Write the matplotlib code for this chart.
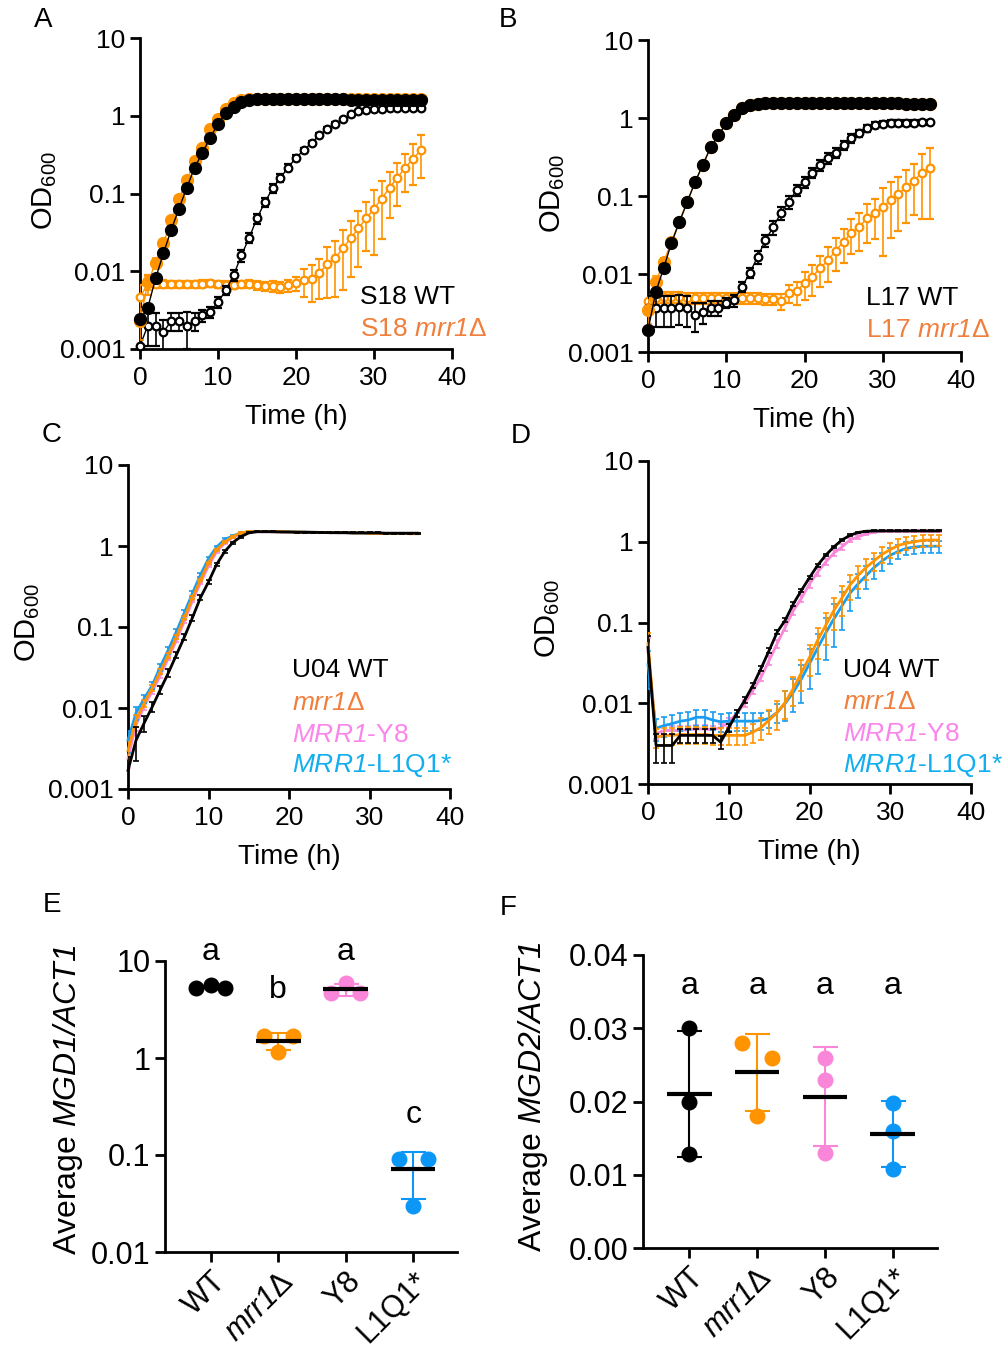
import numpy as np
import matplotlib
matplotlib.use("Agg")
import matplotlib.pyplot as plt
from matplotlib.ticker import FixedLocator, NullLocator

plt.rcParams['font.family'] = ['Liberation Sans', 'DejaVu Sans']
plt.rcParams['mathtext.fontset'] = 'custom'
plt.rcParams['mathtext.rm'] = 'Liberation Sans'
plt.rcParams['mathtext.it'] = 'Liberation Sans:italic'
# \mathsf used for gene names so that digits are italic too
plt.rcParams['mathtext.sf'] = 'Liberation Sans:italic'

# ---------------- data ----------------
hours = list(range(37))

# panel A (S18), filled = no drug, open = drug
A_wt_fill = [0.0024, 0.0034, 0.0081, 0.017, 0.034, 0.064, 0.119, 0.215, 0.334, 0.52, 0.79, 1.09, 1.30,
             1.50, 1.58, 1.62, 1.63, 1.63, 1.63, 1.63, 1.63, 1.62, 1.62, 1.62, 1.62, 1.62, 1.62,
             1.61, 1.61, 1.61, 1.61, 1.61, 1.61, 1.60, 1.60, 1.60, 1.60]
A_mut_fill = [0.0023, 0.0072, 0.0127, 0.0228, 0.045, 0.086, 0.147, 0.265, 0.39, 0.68, 0.90, 1.23, 1.45,
              1.58, 1.63, 1.65, 1.66, 1.66, 1.66, 1.66, 1.66, 1.66, 1.66, 1.66, 1.66, 1.66, 1.66,
              1.66, 1.66, 1.66, 1.66, 1.66, 1.66, 1.66, 1.66, 1.66, 1.66]
A_mut_fill_sd = [0.001, 0.0015, 0.002, 0.002, 0.003, 0.004, 0.005, 0.006, 0.006, 0.006, 0.006, 0.006, 0.006,
                 0.006, 0.006, 0.006, 0.006, 0.006, 0.006, 0.006, 0.006, 0.006, 0.006, 0.006, 0.006, 0.006,
                 0.006, 0.006, 0.006, 0.006, 0.006, 0.006, 0.006, 0.006, 0.006, 0.006, 0.006]
A_wt_open = [0.0011, 0.0020, 0.0020, 0.00165, 0.0023, 0.0023, 0.0020, 0.0023, 0.0027, 0.0030, 0.0040,
             0.0057, 0.0089, 0.016, 0.027, 0.048, 0.077, 0.116, 0.16, 0.215, 0.29, 0.36, 0.45, 0.56,
             0.68, 0.79, 0.90, 1.05, 1.15, 1.20, 1.22, 1.23, 1.24, 1.25, 1.25, 1.25, 1.26]
A_wt_open_sd = [0.0012, 0.0009, 0.0009, 0.0007, 0.0006, 0.0006, 0.0010, 0.0006, 0.0005, 0.0005, 0.0006,
                0.0008, 0.0015, 0.003, 0.004, 0.007, 0.010, 0.015, 0.020, 0.022, 0.025, 0.030, 0.030,
                0.035, 0.035, 0.035, 0.035, 0.030, 0.030, 0.030, 0.030, 0.030, 0.030, 0.030, 0.030,
                0.030, 0.030]
A_mut_open = [0.0046, 0.0070, 0.0069, 0.0069, 0.0068, 0.0068, 0.0068, 0.0068, 0.0069, 0.0070, 0.0068,
              0.0067, 0.0067, 0.0068, 0.0069, 0.0066, 0.0064, 0.0064, 0.0063, 0.0066, 0.0070, 0.0077,
              0.0080, 0.0094, 0.0125, 0.0147, 0.0197, 0.0265, 0.0355, 0.048, 0.064, 0.086, 0.119,
              0.16, 0.215, 0.28, 0.36]
A_mut_open_sd = [0.002, 0.002, 0.0008, 0.0008, 0.0008, 0.0008, 0.0008, 0.0008, 0.0008, 0.0008, 0.0008,
                 0.0008, 0.0008, 0.0008, 0.0008, 0.0008, 0.0008, 0.001, 0.001, 0.0012, 0.0015, 0.003,
                 0.004, 0.005, 0.008, 0.010, 0.014, 0.018, 0.024, 0.030, 0.048, 0.060, 0.070, 0.090,
                 0.110, 0.150, 0.200]

# panel B (L17)
B_wt_fill = [0.0019, 0.0059, 0.0119, 0.025, 0.046, 0.083, 0.15, 0.25, 0.42, 0.60, 0.86, 1.09, 1.34,
             1.47, 1.53, 1.56, 1.57, 1.57, 1.57, 1.57, 1.57, 1.56, 1.56, 1.56, 1.56, 1.56, 1.55,
             1.55, 1.55, 1.55, 1.54, 1.54, 1.54, 1.53, 1.53, 1.53, 1.53]
B_mut_fill = [0.0035, 0.0079, 0.0142, 0.026, 0.047, 0.085, 0.15, 0.25, 0.42, 0.60, 0.87, 1.10, 1.34,
              1.47, 1.53, 1.56, 1.57, 1.57, 1.57, 1.57, 1.57, 1.56, 1.56, 1.56, 1.56, 1.56, 1.55,
              1.55, 1.55, 1.55, 1.54, 1.54, 1.54, 1.53, 1.53, 1.53, 1.53]
B_mut_fill_sd = [0.0012, 0.0015, 0.002, 0.002, 0.003, 0.004, 0.005, 0.006, 0.006, 0.006, 0.006, 0.006,
                 0.006, 0.006, 0.006, 0.006, 0.006, 0.006, 0.006, 0.006, 0.006, 0.006, 0.006, 0.006,
                 0.006, 0.006, 0.006, 0.006, 0.006, 0.006, 0.006, 0.006, 0.006, 0.006, 0.006, 0.006, 0.006]
B_wt_open = [0.0037, 0.0037, 0.0037, 0.0037, 0.0038, 0.0037, 0.0030, 0.0033, 0.0037, 0.0037, 0.0043,
             0.0046, 0.0068, 0.0103, 0.0165, 0.027, 0.040, 0.061, 0.084, 0.12, 0.15, 0.20, 0.25, 0.31,
             0.36, 0.45, 0.55, 0.64, 0.74, 0.81, 0.85, 0.86, 0.87, 0.87, 0.87, 0.88, 0.88]
B_wt_open_sd = [0.0016, 0.0016, 0.0016, 0.0016, 0.0016, 0.0016, 0.0012, 0.0010, 0.0008, 0.0008, 0.0006,
                0.0008, 0.0010, 0.0015, 0.003, 0.005, 0.008, 0.012, 0.015, 0.020, 0.025, 0.030, 0.040,
                0.050, 0.055, 0.060, 0.070, 0.070, 0.070, 0.070, 0.070, 0.070, 0.070, 0.070, 0.070,
                0.070, 0.070]
B_mut_open = [0.0045, 0.0049, 0.0050, 0.0050, 0.0050, 0.0049, 0.0049, 0.0049, 0.0049, 0.0049, 0.0049,
              0.0049, 0.0049, 0.0049, 0.0049, 0.0048, 0.0048, 0.0045, 0.0057, 0.0060, 0.0077, 0.0092,
              0.0119, 0.015, 0.020, 0.026, 0.034, 0.040, 0.052, 0.060, 0.072, 0.089, 0.106, 0.13,
              0.157, 0.20, 0.23]
B_mut_open_sd = [0.0008, 0.0008, 0.0008, 0.0008, 0.0008, 0.0008, 0.0008, 0.0008, 0.0008, 0.0008, 0.0008,
                 0.0008, 0.0008, 0.0008, 0.0008, 0.0008, 0.0008, 0.001, 0.0015, 0.002, 0.003, 0.004,
                 0.005, 0.007, 0.009, 0.012, 0.016, 0.020, 0.027, 0.032, 0.055, 0.060, 0.070, 0.085,
                 0.100, 0.150, 0.180]

# panel C (U04, no drug)
C_wt = [0.0017, 0.0040, 0.0065, 0.0103, 0.0167, 0.027, 0.045, 0.075, 0.13, 0.23, 0.36, 0.59, 0.85,
        1.10, 1.30, 1.45, 1.50, 1.50, 1.50, 1.49, 1.49, 1.48, 1.48, 1.47, 1.47, 1.46, 1.46, 1.46,
        1.45, 1.45, 1.45, 1.45, 1.44, 1.44, 1.44, 1.44, 1.44]
C_mut = [0.0030, 0.0071, 0.0115, 0.0176, 0.028, 0.045, 0.075, 0.13, 0.23, 0.38, 0.62, 0.90, 1.12,
         1.30, 1.45, 1.50, 1.51, 1.51, 1.50, 1.50, 1.49, 1.49, 1.48, 1.48, 1.47, 1.47, 1.46, 1.46,
         1.45, 1.45, 1.44, 1.44, 1.43, 1.43, 1.43, 1.42, 1.42]
C_y8 = [0.0024, 0.0062, 0.0105, 0.016, 0.025, 0.041, 0.068, 0.118, 0.21, 0.35, 0.57, 0.85, 1.08,
        1.27, 1.42, 1.49, 1.50, 1.50, 1.50, 1.49, 1.49, 1.48, 1.48, 1.47, 1.47, 1.46, 1.46, 1.46,
        1.45, 1.45, 1.44, 1.44, 1.43, 1.43, 1.43, 1.42, 1.42]
C_l1q1 = [0.0040, 0.0087, 0.013, 0.019, 0.032, 0.052, 0.087, 0.15, 0.26, 0.44, 0.70, 0.97, 1.20,
          1.33, 1.45, 1.50, 1.51, 1.51, 1.50, 1.50, 1.49, 1.49, 1.48, 1.48, 1.47, 1.47, 1.46, 1.46,
          1.45, 1.45, 1.44, 1.44, 1.43, 1.43, 1.43, 1.42, 1.42]
C_wt_sd = [0.0008, 0.0018, 0.0015, 0.0015, 0.002, 0.003, 0.004, 0.006, 0.01, 0.015, 0.02, 0.03, 0.03,
           0.03, 0.03, 0.02, 0.02, 0.02, 0.02, 0.02, 0.02, 0.02, 0.02, 0.02, 0.02, 0.02, 0.02, 0.02,
           0.02, 0.02, 0.02, 0.02, 0.02, 0.02, 0.02, 0.02, 0.02]
C_mut_sd = [0.0008, 0.0012, 0.0012, 0.0015, 0.002, 0.003, 0.004, 0.006, 0.01, 0.015, 0.02, 0.03, 0.03,
            0.03, 0.03, 0.02, 0.02, 0.02, 0.02, 0.02, 0.02, 0.02, 0.02, 0.02, 0.02, 0.02, 0.02, 0.02,
            0.02, 0.02, 0.02, 0.02, 0.02, 0.02, 0.02, 0.02, 0.02]
C_y8_sd = [0.0006, 0.0010, 0.0010, 0.0012, 0.0015, 0.002, 0.003, 0.005, 0.008, 0.012, 0.02, 0.03, 0.03,
           0.03, 0.03, 0.02, 0.02, 0.02, 0.02, 0.02, 0.02, 0.02, 0.02, 0.02, 0.02, 0.02, 0.02, 0.02,
           0.02, 0.02, 0.02, 0.02, 0.02, 0.02, 0.02, 0.02, 0.02]
C_l1q1_sd = [0.0012, 0.0015, 0.0015, 0.002, 0.003, 0.005, 0.008, 0.012, 0.02, 0.03, 0.04, 0.04, 0.04,
             0.03, 0.03, 0.02, 0.02, 0.02, 0.02, 0.02, 0.02, 0.02, 0.02, 0.02, 0.02, 0.02, 0.02, 0.02,
             0.02, 0.02, 0.02, 0.02, 0.02, 0.02, 0.02, 0.02, 0.02]

# panel D (U04, drug)
D_wt = [0.049, 0.0030, 0.0030, 0.0030, 0.0040, 0.0040, 0.0040, 0.0040, 0.0040, 0.0033, 0.0050, 0.0075,
        0.011, 0.0167, 0.027, 0.045, 0.076, 0.107, 0.17, 0.25, 0.36, 0.51, 0.68, 0.86, 1.05, 1.20,
        1.30, 1.35, 1.36, 1.36, 1.36, 1.36, 1.36, 1.36, 1.36, 1.36, 1.36]
D_mut = [0.055, 0.0038, 0.0040, 0.0040, 0.0041, 0.0041, 0.0041, 0.0041, 0.0040, 0.0040, 0.0040, 0.0040,
         0.0040, 0.0044, 0.0050, 0.0062, 0.0077, 0.0103, 0.0153, 0.024, 0.037, 0.060, 0.092, 0.14, 0.20,
         0.29, 0.38, 0.48, 0.58, 0.70, 0.80, 0.90, 0.96, 1.00, 1.04, 1.05, 1.05]
D_y8 = [0.045, 0.0042, 0.0046, 0.0046, 0.0046, 0.0047, 0.0048, 0.0048, 0.0047, 0.0050, 0.0058, 0.0075,
        0.010, 0.0145, 0.021, 0.034, 0.055, 0.088, 0.14, 0.20, 0.30, 0.42, 0.56, 0.72, 0.86, 1.05,
        1.15, 1.25, 1.32, 1.35, 1.36, 1.36, 1.36, 1.36, 1.36, 1.36, 1.36]
D_l1q1 = [0.030, 0.0049, 0.0053, 0.0056, 0.0060, 0.0062, 0.0067, 0.0067, 0.0062, 0.0059, 0.0060, 0.0060,
          0.0060, 0.0060, 0.0061, 0.0065, 0.0077, 0.010, 0.0137, 0.020, 0.031, 0.048, 0.074, 0.11, 0.16,
          0.23, 0.30, 0.38, 0.48, 0.58, 0.68, 0.76, 0.83, 0.86, 0.88, 0.88, 0.88]
D_wt_sd = [0.02, 0.0012, 0.0012, 0.0012, 0.0008, 0.0008, 0.0008, 0.0008, 0.0008, 0.0006, 0.0006, 0.0008,
           0.001, 0.0012, 0.002, 0.003, 0.004, 0.006, 0.008, 0.01, 0.015, 0.02, 0.02, 0.03, 0.03, 0.03,
           0.02, 0.02, 0.02, 0.02, 0.02, 0.02, 0.02, 0.02, 0.02, 0.02, 0.02]
D_mut_sd = [0.02, 0.001, 0.001, 0.001, 0.001, 0.001, 0.001, 0.001, 0.001, 0.001, 0.001, 0.001,
            0.001, 0.0012, 0.0015, 0.002, 0.003, 0.004, 0.006, 0.010, 0.015, 0.025, 0.040, 0.060, 0.080,
            0.100, 0.120, 0.140, 0.150, 0.160, 0.170, 0.170, 0.170, 0.170, 0.170, 0.170, 0.170]
D_y8_sd = [0.02, 0.0006, 0.0006, 0.0006, 0.0006, 0.0006, 0.0006, 0.0006, 0.0006, 0.0006, 0.0007, 0.0008,
           0.001, 0.0015, 0.002, 0.004, 0.006, 0.01, 0.015, 0.02, 0.03, 0.04, 0.05, 0.06, 0.07, 0.07,
           0.06, 0.05, 0.04, 0.03, 0.03, 0.03, 0.03, 0.03, 0.03, 0.03, 0.03]
D_l1q1_sd = [0.015, 0.0015, 0.0015, 0.0015, 0.0015, 0.0015, 0.0015, 0.0015, 0.0015, 0.0015, 0.0015,
             0.0015, 0.0015, 0.0015, 0.0015, 0.0015, 0.002, 0.004, 0.006, 0.010, 0.016, 0.025, 0.040,
             0.060, 0.080, 0.090, 0.100, 0.120, 0.130, 0.140, 0.150, 0.150, 0.150, 0.150, 0.150,
             0.150, 0.150]

# panels E and F: qPCR replicates
groups = ['WT', r'$\mathsf{mrr1}$Δ', 'Y8', 'L1Q1*']
E_reps = [[5.3, 5.6, 5.3], [1.67, 1.15, 1.67], [4.7, 5.9, 4.7], [0.092, 0.030, 0.092]]
F_reps = [[0.030, 0.020, 0.0129], [0.028, 0.018, 0.0259], [0.026, 0.023, 0.013], [0.0198, 0.0160, 0.0108]]
E_letters = ['a', 'b', 'a', 'c']
F_letters = ['a', 'a', 'a', 'a']

# ---------------- style ----------------
BLACK = '#000000'
ORANGE = '#FF9300'
PINK = '#F986D9'
BLUE = '#1A9DF0'
T_ORANGE = '#F07F3C'
T_PINK = '#FA86EC'
T_BLUE = '#12AEEF'
E_BLUE = '#0C97F6'

W, H = 1005, 1352
fig = plt.figure(figsize=(W / 100, H / 100), dpi=100)

FS = 19      # growth panels
FS2 = 22     # qPCR panels


def add_ax(l, t, r, b):
    return fig.add_axes([l / W, 1 - b / H, (r - l) / W, (b - t) / H])


def ftext(x, y, s, **kw):
    fig.text(x / W, 1 - y / H, s, **kw)


def style(ax, fs):
    for s in ['top', 'right']:
        ax.spines[s].set_visible(False)
    for s in ['left', 'bottom']:
        ax.spines[s].set_linewidth(2)
    ax.tick_params(width=2, length=7.5, labelsize=fs, direction='out', pad=3)


def growth_axes(ax):
    style(ax, FS)
    ax.set_yscale('log')
    ax.set_ylim(0.001, 10)
    ax.set_xlim(0, 40)
    ax.yaxis.set_major_locator(FixedLocator([0.001, 0.01, 0.1, 1, 10]))
    ax.set_yticklabels(['0.001', '0.01', '0.1', '1', '10'])
    ax.yaxis.set_minor_locator(NullLocator())
    ax.set_xticks([0, 10, 20, 30, 40])
    ax.tick_params(axis='x', pad=5)


def clip_bars(cont):
    # keep markers free at the axes edge, but cut error bars at the axes
    for c in cont[1]:
        c.set_clip_on(True)
    for c in cont[2]:
        c.set_clip_on(True)


def marker_series(ax, y, sd, color, filled, z):
    if filled:
        cont = ax.errorbar(hours, y, yerr=sd, color=color, lw=1, marker='o', ms=8.5, mfc=color,
                           mec=color, elinewidth=1.2, capsize=3, capthick=1.2, clip_on=False, zorder=z)
    else:
        cont = ax.errorbar(hours, y, yerr=sd, color=color, lw=1, marker='o', ms=5.5, mfc='white',
                           mec=color, mew=1.6, elinewidth=1.2, capsize=3, capthick=1.2, clip_on=False,
                           zorder=z)
    clip_bars(cont)


def line_series(ax, y, sd, color, z):
    cont = ax.errorbar(hours, y, yerr=sd, color=color, lw=2, elinewidth=1.2, capsize=2.5, capthick=1.2,
                       clip_on=False, zorder=z)
    clip_bars(cont)


# A
axA = add_ax(140, 38, 452, 349)
growth_axes(axA)
marker_series(axA, A_mut_open, A_mut_open_sd, ORANGE, False, 3)
marker_series(axA, A_wt_open, A_wt_open_sd, BLACK, False, 4)
marker_series(axA, A_mut_fill, A_mut_fill_sd, ORANGE, True, 5)
marker_series(axA, A_wt_fill, None, BLACK, True, 6)

# B
axB = add_ax(648, 40, 961, 352)
growth_axes(axB)
marker_series(axB, B_mut_open, B_mut_open_sd, ORANGE, False, 3)
marker_series(axB, B_wt_open, B_wt_open_sd, BLACK, False, 4)
marker_series(axB, B_mut_fill, B_mut_fill_sd, ORANGE, True, 5)
marker_series(axB, B_wt_fill, None, BLACK, True, 6)

# C
axC = add_ax(128, 465, 450, 789)
growth_axes(axC)
line_series(axC, C_y8, C_y8_sd, PINK, 3)
line_series(axC, C_l1q1, C_l1q1_sd, BLUE, 4)
line_series(axC, C_mut, C_mut_sd, ORANGE, 5)
line_series(axC, C_wt, C_wt_sd, BLACK, 6)

# D
axD = add_ax(648, 461, 971, 784)
growth_axes(axD)
line_series(axD, D_y8, D_y8_sd, PINK, 3)
line_series(axD, D_l1q1, D_l1q1_sd, BLUE, 4)
line_series(axD, D_mut, D_mut_sd, ORANGE, 5)
line_series(axD, D_wt, D_wt_sd, BLACK, 6)

for ax in (axA, axB, axC, axD):
    ax.set_xlabel('Time (h)', fontsize=FS + 1, labelpad=10)

# axis labels for OD
for (x, y) in [(45, 190), (553, 193), (28, 622), (548, 618)]:
    ftext(x, y, r'OD$_{600}$', fontsize=21, rotation=90, ha='center', va='center')

# in-plot labels
ftext(360, 297, 'S18 WT', fontsize=FS, color=BLACK, va='center')
ftext(360, 329, r'S18 $\mathsf{mrr1}$Δ', fontsize=FS, color=T_ORANGE, va='center')
ftext(866, 298, 'L17 WT', fontsize=FS, color=BLACK, va='center')
ftext(866, 330, r'L17 $\mathsf{mrr1}$Δ', fontsize=FS, color=T_ORANGE, va='center')
for x0, ys in [(292, [670, 703, 735, 766]), (843, [670, 702, 734, 766])]:
    ftext(x0, ys[0], 'U04 WT', fontsize=FS, color=BLACK, va='center')
    ftext(x0, ys[1], r'$\mathsf{mrr1}$Δ', fontsize=FS, color=T_ORANGE, va='center')
    ftext(x0, ys[2], r'$\mathsf{MRR1}$-Y8', fontsize=FS, color=T_PINK, va='center')
    ftext(x0, ys[3], r'$\mathsf{MRR1}$-L1Q1*', fontsize=FS, color=T_BLUE, va='center')

# E / F
cat_colors = [BLACK, ORANGE, PINK, E_BLUE]
spread = 0.215
E_offsets = [[-1, 0, 1], [-1, 0, 1], [-1, 0, 1], [-1, 0, 1]]
F_offsets = [[0, 0, 0], [-1, 0, 1], [0, 0, 0], [0, 0, 0]]


def dot_panel(ax, reps, offsets, letters, letter_y):
    style(ax, FS2)
    ax.set_xlim(-0.68, 3.65)
    for i, (vals, offs) in enumerate(zip(reps, offsets)):
        c = cat_colors[i]
        m = np.mean(vals)
        sd = np.std(vals, ddof=1)
        ax.errorbar([i], [m], yerr=[sd], color=c, elinewidth=1.5, capsize=9, capthick=1.5,
                    fmt='none', zorder=3)
        ax.plot([i - 0.33, i + 0.33], [m, m], color=BLACK, lw=3, zorder=5, solid_capstyle='butt')
        ax.plot([i + o * spread for o in offs], vals, 'o', color=c, ms=10.5, zorder=4, clip_on=False)
        ax.text(i, letter_y[i], letters[i], fontsize=23, ha='center', va='center')
    ax.set_xticks(range(len(groups)))
    ax.set_xticklabels(groups, rotation=45, ha='right', rotation_mode='anchor', fontsize=FS2)


axE = add_ax(165, 961, 457, 1252)
axE.set_yscale('log')
axE.set_ylim(0.01, 10)
dot_panel(axE, E_reps, E_offsets, E_letters, [12.3, 5.0, 12.3, 0.26])
axE.yaxis.set_major_locator(FixedLocator([0.01, 0.1, 1, 10]))
axE.set_yticklabels(['0.01', '0.1', '1', '10'])
axE.yaxis.set_minor_locator(NullLocator())
ftext(68, 1100, r'Average $\mathsf{MGD1/ACT1}$', fontsize=23, rotation=90, ha='center', va='center')

axF = add_ax(643, 955, 937, 1248)
axF.set_ylim(0, 0.04)
dot_panel(axF, F_reps, F_offsets, F_letters, [0.0358] * 4)
axF.set_yticks([0, 0.01, 0.02, 0.03, 0.04])
axF.set_yticklabels(['0.00', '0.01', '0.02', '0.03', '0.04'])
ftext(533, 1097, r'Average $\mathsf{MGD2/ACT1}$', fontsize=23, rotation=90, ha='center', va='center')

# panel letters
for s, x, y in [('A', 43, 20), ('B', 508, 20), ('C', 52, 435), ('D', 521, 436), ('E', 52, 905), ('F', 508, 908)]:
    ftext(x, y, s, fontsize=20, ha='center', va='center')

fig.savefig('out.png', dpi=100)
